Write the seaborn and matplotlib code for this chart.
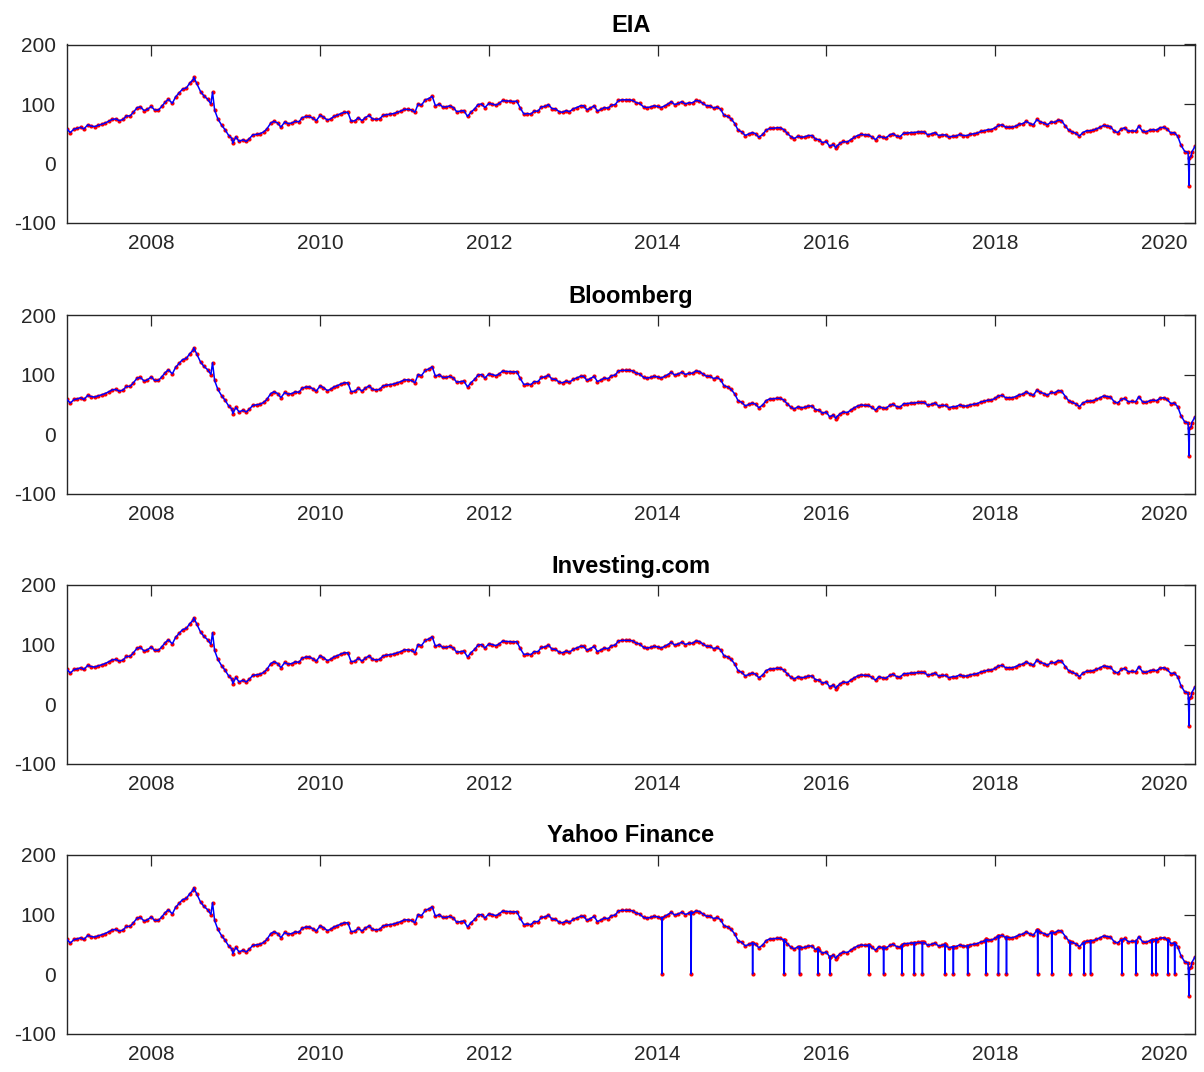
import numpy as np
import pandas as pd
import matplotlib
matplotlib.use("Agg")
import matplotlib.pyplot as plt
import matplotlib.dates as mdates
import seaborn as sns

titles = ["EIA", "Bloomberg", "Investing.com", "Yahoo Finance"]

# WTI crude spot, USD/bbl, sampled on the 1st and 15th of each month
wti_2007 = [58, 52, 58, 59, 61, 58, 65, 63, 62, 64, 66, 68, 71, 74, 75, 72, 74, 80, 80, 86, 94, 95, 89, 91]
wti_2008 = [96, 90, 90, 96, 103, 108, 101, 112, 119, 125, 127, 135, 141, 135, 121, 114, 108, 100, 90, 75, 64, 57, 47, 42]
wti_2009 = [45, 37, 40, 37, 42, 48, 49, 50, 53, 58, 68, 71, 68, 61, 70, 67, 68, 71, 70, 77, 79, 79, 76, 72]
wti_2010 = [81, 78, 73, 75, 79, 81, 84, 86, 86, 71, 72, 77, 72, 77, 81, 75, 74, 75, 81, 82, 83, 84, 86, 88]
wti_2011 = [91, 91, 90, 86, 100, 98, 107, 109, 113, 97, 100, 95, 95, 97, 94, 87, 88, 89, 79, 86, 92, 99, 100, 94]
wti_2012 = [101, 100, 98, 101, 106, 105, 105, 104, 105, 94, 83, 84, 83, 88, 88, 95, 96, 99, 92, 92, 87, 86, 89, 87]
wti_2013 = [92, 94, 97, 97, 90, 93, 97, 88, 91, 94, 93, 98, 99, 106, 107, 107, 107, 106, 102, 101, 95, 94, 95, 97]
wti_2014 = [96, 94, 97, 100, 104, 99, 101, 104, 100, 102, 102, 106, 105, 101, 97, 97, 93, 95, 91, 81, 79, 75, 67, 56]
wti_2015 = [53, 47, 50, 52, 50, 44, 49, 56, 59, 59, 60, 60, 57, 51, 45, 42, 46, 44, 45, 47, 47, 41, 40, 35]
wti_2016 = [37, 29, 32, 29, 34, 37, 36, 40, 44, 47, 49, 48, 48, 45, 40, 46, 44, 43, 48, 50, 46, 45, 51, 51]
wti_2017 = [52, 52, 53, 53, 53, 48, 50, 52, 47, 48, 48, 44, 46, 46, 49, 47, 47, 49, 50, 51, 54, 55, 57, 57]
wti_2018 = [60, 64, 65, 61, 61, 61, 63, 66, 67, 71, 67, 65, 74, 70, 68, 65, 70, 69, 73, 72, 63, 56, 53, 51]
wti_2019 = [46, 52, 55, 55, 56, 58, 61, 64, 63, 62, 54, 52, 58, 60, 54, 55, 54, 63, 54, 53, 56, 57, 56, 60]
wti_2020 = [61, 58, 51, 52, 46, 31, 20, 19, 19, 29]
wti_by_year = [wti_2007, wti_2008, wti_2009, wti_2010, wti_2011, wti_2012, wti_2013,
               wti_2014, wti_2015, wti_2016, wti_2017, wti_2018, wti_2019, wti_2020]
first_year = 2007

# notable daily extremes
extra_dates = ["2008-07-03", "2008-09-22", "2008-12-19", "2016-02-11",
               "2020-04-20", "2020-04-21", "2020-04-28"]
extra_values = [145, 120, 34, 26, -37, 10, 12]

# Yahoo Finance reports 0 on US market holidays; price around each gap
yahoo_zero_dates = ["2014-01-20", "2014-05-26", "2015-02-16", "2015-07-03", "2015-09-07",
                    "2015-11-26", "2016-01-18", "2016-07-04", "2016-09-05", "2016-11-24",
                    "2017-01-16", "2017-02-20", "2017-05-29", "2017-07-04", "2017-09-04",
                    "2017-11-23", "2018-01-15", "2018-02-19", "2018-07-04", "2018-09-03",
                    "2018-11-22", "2019-01-21", "2019-02-18", "2019-07-04", "2019-09-02",
                    "2019-11-11", "2019-11-28", "2020-01-20", "2020-02-17"]
yahoo_gap_prices = [94, 104, 52, 57, 46, 43, 29, 49, 45, 48,
                    52, 53, 50, 46, 47, 58, 64, 62, 74, 70,
                    54, 53, 56, 57, 55, 57, 58, 58, 52]

# ---------- build tables ----------
frames = []
for i, vals in enumerate(wti_by_year):
    d = pd.date_range(f"{first_year + i}-01-01", periods=len(vals), freq="SMS")
    frames.append(pd.DataFrame({"date": d, "price": vals}))
frames.append(pd.DataFrame({"date": pd.to_datetime(extra_dates), "price": extra_values}))
base = pd.concat(frames).sort_values("date").reset_index(drop=True)

yrows = []
for ds, p in zip(yahoo_zero_dates, yahoo_gap_prices):
    d = pd.Timestamp(ds)
    yrows += [(d - pd.Timedelta(days=1), p), (d, 0.0), (d + pd.Timedelta(days=1), p)]
yahoo = pd.concat([base, pd.DataFrame(yrows, columns=["date", "price"])])
yahoo = yahoo.sort_values("date").reset_index(drop=True)

datasets = [base, base, base, yahoo]

# ---------- plot ----------
sns.set_style("white")
plt.rcParams["font.family"] = ["Liberation Sans", "DejaVu Sans"]
plt.rcParams["axes.unicode_minus"] = False

W, H = 1204, 1072
fig = plt.figure(figsize=(W / 100, H / 100), dpi=100)
left, right = 67, 1195
tops = [44.5, 315, 585, 855]
ph = 178.5
axcol = "#262626"

for t, top, df in zip(titles, tops, datasets):
    ax = fig.add_axes([left / W, 1 - (top + ph) / H, (right - left) / W, ph / H])
    sns.scatterplot(data=df, x="date", y="price", ax=ax, color="red", s=9,
                    linewidth=0, zorder=2, legend=False)
    sns.lineplot(data=df, x="date", y="price", ax=ax, color="blue", lw=1.1,
                 estimator=None, sort=False, zorder=3, legend=False)
    ax.set_xlim(base["date"].min(), base["date"].max())
    ax.set_ylim(-100, 200)
    ax.set_yticks([-100, 0, 100, 200])
    ax.xaxis.set_major_locator(mdates.YearLocator(2))
    ax.xaxis.set_major_formatter(mdates.DateFormatter("%Y"))
    ax.set_xlabel("")
    ax.set_ylabel("")
    ax.tick_params(direction="in", length=8, width=0.9, top=True, right=True,
                   labelsize=15, colors=axcol, pad=8)
    for s in ax.spines.values():
        s.set_visible(True)
        s.set_color(axcol)
        s.set_linewidth(1.0)
    ax.set_title(t, fontsize=17, fontweight="bold", color="black", pad=9)

fig.savefig("out.png", dpi=100)
